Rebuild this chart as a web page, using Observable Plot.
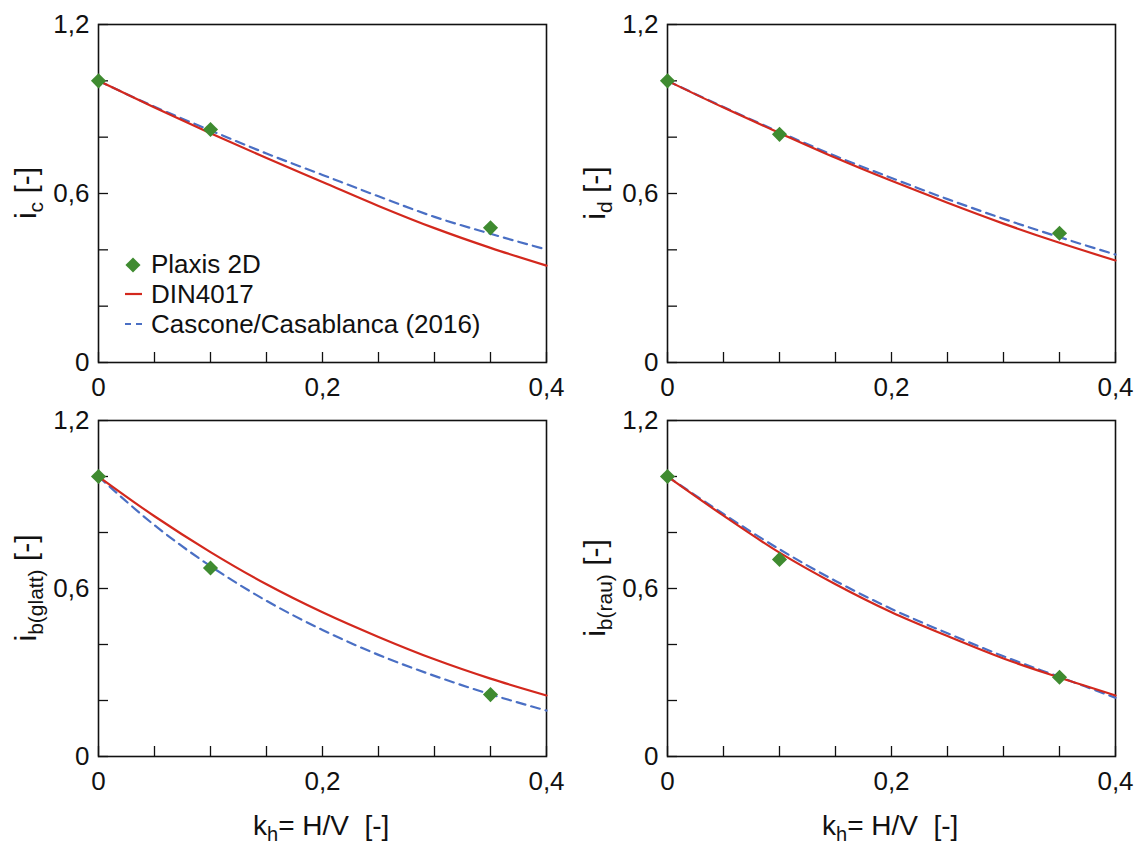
<!DOCTYPE html>
<html><head><meta charset="utf-8">
<script src="https://cdn.jsdelivr.net/npm/d3@7"></script>
<script src="https://cdn.jsdelivr.net/npm/@observablehq/plot@0.6"></script>
<style>
body{margin:0;background:#fff;}
#chart{position:relative;width:1138px;height:852px;font-family:"Liberation Sans",Arial,Helvetica,sans-serif;}
#chart svg{position:absolute;overflow:visible;}
</style></head><body><div id="chart"></div>
<script>
// ---- data ----
const kh = [0, 0.05, 0.1, 0.15, 0.2, 0.25, 0.3, 0.35, 0.4];
const plaxisK = [0, 0.1, 0.35];

const icDIN      = [1.0, 0.905, 0.814, 0.726, 0.641, 0.556, 0.477, 0.407, 0.344];
const icCascone  = [1.0, 0.908, 0.824, 0.742, 0.666, 0.590, 0.517, 0.457, 0.401];
const icPlaxis   = [1.0, 0.827, 0.478];

const idDIN      = [1.0, 0.905, 0.815, 0.727, 0.645, 0.567, 0.493, 0.425, 0.362];
const idCascone  = [1.0, 0.907, 0.818, 0.733, 0.655, 0.580, 0.510, 0.445, 0.383];
const idPlaxis   = [1.0, 0.810, 0.459];

const ibgDIN     = [1.0, 0.858, 0.730, 0.615, 0.515, 0.427, 0.347, 0.278, 0.218];
const ibgCascone = [1.0, 0.826, 0.680, 0.556, 0.452, 0.363, 0.288, 0.222, 0.164];
const ibgPlaxis  = [1.0, 0.673, 0.221];

const ibrDIN     = [1.0, 0.860, 0.728, 0.615, 0.515, 0.430, 0.350, 0.282, 0.218];
const ibrCascone = [1.0, 0.866, 0.740, 0.627, 0.527, 0.440, 0.358, 0.284, 0.210];
const ibrPlaxis  = [1.0, 0.704, 0.283];

const xTicks  = [0, 0.05, 0.1, 0.15, 0.2, 0.25, 0.3, 0.35, 0.4];
const yTicks  = [0, 0.2, 0.4, 0.6, 0.8, 1.0, 1.2];
const xLabels = [0, 0.2, 0.4];
const yLabels = [0, 0.6, 1.2];

const seriesNames = ["Plaxis 2D", "DIN4017", "Cascone/Casablanca (2016)"];
const yTitleSubs = ["c", "d", "b(glatt)", "b(rau)"];
const xTitle = {main: "k", sub: "h", rest: "=\u00A0H/V\u00A0\u00A0[-]"};

// ---- styles ----
const GREEN = "#3f8b30", RED = "#d3281d", BLUE = "#4a6fc4", INK = "#111";
const FONT = "'Liberation Sans', Arial, Helvetica, sans-serif";
const fmt = d => String(d).replace(".", ",");

const panels = [
  {din: icDIN,  cas: icCascone,  pl: icPlaxis,  sub: yTitleSubs[0], left: 0,   top: 0,   bottom: false, legend: true},
  {din: idDIN,  cas: idCascone,  pl: idPlaxis,  sub: yTitleSubs[1], left: 569, top: 0,   bottom: false, legend: false},
  {din: ibgDIN, cas: ibgCascone, pl: ibgPlaxis, sub: yTitleSubs[2], left: 0,   top: 396, bottom: true,  legend: false},
  {din: ibrDIN, cas: ibrCascone, pl: ibrPlaxis, sub: yTitleSubs[3], left: 569, top: 396, bottom: true,  legend: false}
];

const root = document.getElementById("chart");

for (const p of panels) {
  const W = 569, H = p.bottom ? 456 : 396;
  const mt = 24, mb = p.bottom ? 96 : 34, ml = 98, mr = 23;
  const frameH = H - mt - mb, frameW = W - ml - mr;
  const lines = kh.map((k, i) => ({k, din: p.din[i], cas: p.cas[i]}));
  const pts = plaxisK.map((k, i) => ({k, v: p.pl[i]}));

  const svg = Plot.plot({
    width: W, height: H,
    marginLeft: ml, marginRight: mr, marginTop: mt, marginBottom: mb,
    style: {fontFamily: FONT, fontSize: "26px", background: "transparent", color: INK, overflow: "visible"},
    x: {domain: [0, 0.4]},
    y: {domain: [0, 1.2]},
    marks: [
      Plot.tickX(xTicks, {x: d => d, stroke: INK, strokeWidth: 1.3, insetTop: frameH - 10}),
      Plot.tickY(yTicks, {y: d => d, stroke: INK, strokeWidth: 1.3, insetRight: frameW - 10}),
      Plot.axisX(xLabels, {tickSize: 0, tickPadding: 15, tickFormat: fmt, fontSize: 26, fill: INK, label: null}),
      Plot.axisY(yLabels, {tickSize: 0, tickPadding: 9, tickFormat: fmt, fontSize: 26, fill: INK, label: null}),
      Plot.frame({stroke: INK, strokeWidth: 1.6}),
      Plot.line(lines, {x: "k", y: "cas", stroke: BLUE, strokeWidth: 2.2, strokeDasharray: "9,6", curve: "monotone-x"}),
      Plot.line(lines, {x: "k", y: "din", stroke: RED, strokeWidth: 2.2, curve: "monotone-x"}),
      Plot.dot(pts, {x: "k", y: "v", symbol: "diamond2", r: 6.8, fill: GREEN, stroke: "none"})
    ]
  });
  svg.style.left = p.left + "px";
  svg.style.top = p.top + "px";
  root.appendChild(svg);

  const s = d3.select(svg);
  // y title
  const yt = s.append("text")
    .attr("transform", `translate(36,${mt + frameH / 2}) rotate(-90)`)
    .attr("text-anchor", "middle")
    .attr("font-family", FONT).attr("font-size", 30).attr("fill", INK);
  yt.append("tspan").text("i");
  yt.append("tspan").attr("font-size", 21).attr("dy", 7).text(p.sub);
  yt.append("tspan").attr("dy", -7).text("\u00A0[-]");

  // x title
  if (p.bottom) {
    const xt = s.append("text")
      .attr("x", 253).attr("y", 439).attr("text-anchor", "start")
      .attr("font-family", FONT).attr("font-size", 28).attr("fill", INK);
    xt.append("tspan").text(xTitle.main);
    xt.append("tspan").attr("font-size", 20).attr("dy", 6).text(xTitle.sub);
    xt.append("tspan").attr("dy", -6).text(xTitle.rest);
  }

  // legend
  if (p.legend) {
    const lg = s.append("g").attr("font-family", FONT).attr("font-size", 26).attr("fill", INK).attr("text-anchor", "start");
    lg.append("path").attr("d", d3.symbol(d3.symbolDiamond2, 145)()).attr("transform", "translate(133,265)").attr("fill", GREEN);
    lg.append("text").attr("x", 151).attr("y", 273).attr("text-anchor", "start").text(seriesNames[0]);
    lg.append("line").attr("x1", 125).attr("x2", 142).attr("y1", 294).attr("y2", 294).attr("stroke", RED).attr("stroke-width", 2.2);
    lg.append("text").attr("x", 151).attr("y", 303).attr("text-anchor", "start").text(seriesNames[1]);
    lg.append("line").attr("x1", 125).attr("x2", 142).attr("y1", 324).attr("y2", 324).attr("stroke", BLUE).attr("stroke-width", 2.2).attr("stroke-dasharray", "6,5");
    lg.append("text").attr("x", 151).attr("y", 333).attr("text-anchor", "start").text(seriesNames[2]);
  }
}
</script></body></html>
